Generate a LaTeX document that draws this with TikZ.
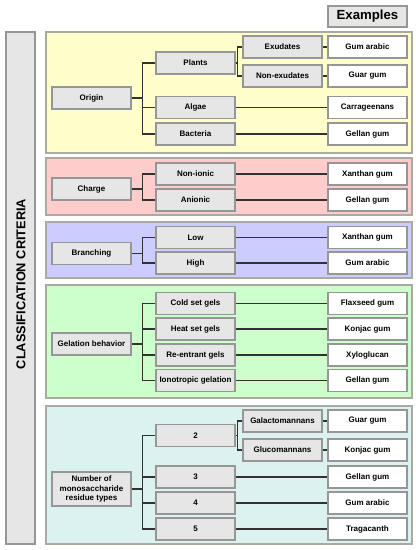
\documentclass[tikz,border=0pt]{standalone}
\usepackage{fontspec}
\setmainfont{Liberation Sans}
\definecolor{boxfill}{RGB}{230,230,230}
\definecolor{boxdraw}{RGB}{150,150,150}
\definecolor{linec}{RGB}{50,50,50}
\definecolor{pyellow}{RGB}{255,255,204}
\definecolor{pred}{RGB}{255,204,204}
\definecolor{pblue}{RGB}{204,204,255}
\definecolor{pgreen}{RGB}{204,255,204}
\definecolor{pteal}{RGB}{220,242,240}
\definecolor{panedraw}{RGB}{170,170,160}
\tikzset{
  cbox/.style={draw=boxdraw, fill=boxfill, line width=0.8pt, minimum width=59.25pt, minimum height=16.5pt, inner sep=1pt, font=\fontsize{6}{7}\selectfont\bfseries, align=center},
  exbox/.style={cbox, fill=white},
  panel/.style={draw=panedraw, line width=0.8pt},
  conn/.style={draw=linec, line width=0.8pt},
}
\begin{document}
\begin{tikzpicture}[x=0.75pt,y=-0.75pt]
\useasboundingbox (0,0) rectangle (416,550);
% header
\node[cbox, minimum width=59.25pt, minimum height=15.75pt, font=\fontsize{9.9}{11}\selectfont\bfseries] (exh) at (367.5,16.5) {Examples};
% left bar
\node[draw=boxdraw, fill=boxfill, line width=0.8pt, minimum width=21.75pt, minimum height=384pt, inner sep=0pt] (bar) at (20.5,288) {};
\node[rotate=90, font=\fontsize{9.6}{11}\selectfont\bfseries] (cc) at (21,284) {CLASSIFICATION CRITERIA};
% panels
\draw[panel, fill=pyellow] (46,32) rectangle (412,153);
\draw[panel, fill=pred] (46,158) rectangle (412,215);
\draw[panel, fill=pblue] (46,222) rectangle (412,278);
\draw[panel, fill=pgreen] (46,285) rectangle (412,398);
\draw[panel, fill=pteal] (46,406) rectangle (412,544);
% ---- Origin
\node[cbox] (o) at (91.5,98) {Origin};
\node[cbox] (pl) at (195.5,63) {Plants};
\node[cbox] (ex) at (282.5,47) {Exudates};
\node[cbox] (nex) at (282.5,76) {Non-exudates};
\node[cbox] (al) at (195.5,107.5) {Algae};
\node[cbox] (ba) at (195.5,134) {Bacteria};
\node[exbox] (e1) at (367.5,47) {Gum arabic};
\node[exbox] (e2) at (367.5,76) {Guar gum};
\node[exbox] (e3) at (367.5,107.5) {Carrageenans};
\node[exbox] (e4) at (367.5,134) {Gellan gum};
\foreach \c in {pl,al,ba} \draw[conn] (\c.west) -- ++(-13,0) |- (o.east);
\foreach \c in {ex,nex} \draw[conn] (\c.west) -- ++(-5,0) |- (pl.east);
\draw[conn] (ex.east) -- (e1.west);
\draw[conn] (nex.east) -- (e2.west);
\draw[conn] (al.east) -- (e3.west);
\draw[conn] (ba.east) -- (e4.west);
% ---- Charge
\node[cbox] (ch) at (91.5,189) {Charge};
\node[cbox] (ni) at (195.5,174) {Non-ionic};
\node[cbox] (an) at (195.5,200) {Anionic};
\node[exbox] (e5) at (367.5,174) {Xanthan gum};
\node[exbox] (e6) at (367.5,200) {Gellan gum};
\foreach \c in {ni,an} \draw[conn] (\c.west) -- ++(-13,0) |- (ch.east);
\draw[conn] (ni.east) -- (e5.west);
\draw[conn] (an.east) -- (e6.west);
% ---- Branching
\node[cbox] (br) at (91.5,253.5) {Branching};
\node[cbox] (lo) at (195.5,237.5) {Low};
\node[cbox] (hi) at (195.5,263) {High};
\node[exbox] (e7) at (367.5,237.5) {Xanthan gum};
\node[exbox] (e8) at (367.5,263) {Gum arabic};
\foreach \c in {lo,hi} \draw[conn] (\c.west) -- ++(-13,0) |- (br.east);
\draw[conn] (lo.east) -- (e7.west);
\draw[conn] (hi.east) -- (e8.west);
% ---- Gelation
\node[cbox] (ge) at (91.5,344) {Gelation behavior};
\node[cbox] (cs) at (195.5,303.5) {Cold set gels};
\node[cbox] (hs) at (195.5,329) {Heat set gels};
\node[cbox] (re) at (195.5,355) {Re-entrant gels};
\node[cbox] (io) at (195.5,380.5) {Ionotropic gelation};
\node[exbox] (e9) at (367.5,303.5) {Flaxseed gum};
\node[exbox] (e10) at (367.5,329) {Konjac gum};
\node[exbox] (e11) at (367.5,355) {Xyloglucan};
\node[exbox] (e12) at (367.5,380.5) {Gellan gum};
\foreach \c in {cs,hs,re,io} \draw[conn] (\c.west) -- ++(-13,0) |- (ge.east);
\draw[conn] (cs.east) -- (e9.west);
\draw[conn] (hs.east) -- (e10.west);
\draw[conn] (re.east) -- (e11.west);
\draw[conn] (io.east) -- (e12.west);
% ---- Monosaccharide
\node[cbox, minimum height=25.5pt] (nm) at (91.5,489) {Number of\\monosaccharide\\residue types};
\node[cbox] (n2) at (195.5,435.5) {2};
\node[cbox] (ga) at (282.5,421) {Galactomannans};
\node[cbox] (gl) at (282.5,450) {Glucomannans};
\node[cbox] (n3) at (195.5,477) {3};
\node[cbox] (n4) at (195.5,503) {4};
\node[cbox] (n5) at (195.5,529) {5};
\node[exbox] (e13) at (367.5,421) {Guar gum};
\node[exbox] (e14) at (367.5,450) {Konjac gum};
\node[exbox] (e15) at (367.5,477) {Gellan gum};
\node[exbox] (e16) at (367.5,503) {Gum arabic};
\node[exbox] (e17) at (367.5,529) {Tragacanth};
\foreach \c in {n2,n3,n4,n5} \draw[conn] (\c.west) -- ++(-13,0) |- (nm.east);
\foreach \c in {ga,gl} \draw[conn] (\c.west) -- ++(-5,0) |- (n2.east);
\draw[conn] (ga.east) -- (e13.west);
\draw[conn] (gl.east) -- (e14.west);
\draw[conn] (n3.east) -- (e15.west);
\draw[conn] (n4.east) -- (e16.west);
\draw[conn] (n5.east) -- (e17.west);
\end{tikzpicture}
\end{document}
